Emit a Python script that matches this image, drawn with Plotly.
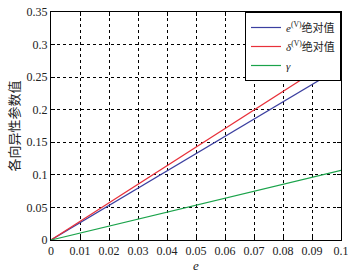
import plotly.graph_objects as go

e_vals = [0, 0.01, 0.02, 0.03, 0.04, 0.05, 0.06, 0.07, 0.08, 0.09, 0.1]
eps_abs = [0, 0.0265, 0.053, 0.0795, 0.106, 0.1325, 0.159, 0.1855, 0.212, 0.2385, 0.265]
delta_abs = [0, 0.0285, 0.057, 0.0855, 0.114, 0.1425, 0.171, 0.1995, 0.228, 0.2565, 0.285]
gamma = [0, 0.0107, 0.0214, 0.0321, 0.0428, 0.0535, 0.0642, 0.0749, 0.0856, 0.0963, 0.107]

x_ticks = [0, 0.01, 0.02, 0.03, 0.04, 0.05, 0.06, 0.07, 0.08, 0.09, 0.1]
x_labels = ["0", "0.01", "0.02", "0.03", "0.04", "0.05", "0.06", "0.07", "0.08", "0.09", "0.1"]
y_ticks = [0, 0.05, 0.1, 0.15, 0.2, 0.25, 0.3, 0.35]
y_labels = ["0", "0.05", "0.1", "0.15", "0.2", "0.25", "0.3", "0.35"]

serif = "Liberation Serif, Times New Roman, serif"

fig = go.Figure()
fig.add_trace(go.Scatter(x=e_vals, y=eps_abs, mode="lines", line=dict(color="#3b3fa0", width=1.2),
                         name="<i>e</i><sup>(V)</sup>绝对值"))
fig.add_trace(go.Scatter(x=e_vals, y=delta_abs, mode="lines", line=dict(color="#e8303a", width=1.2),
                         name="<i>δ</i><sup>(V)</sup>绝对值"))
fig.add_trace(go.Scatter(x=e_vals, y=gamma, mode="lines", line=dict(color="#1aa34a", width=1.2),
                         name="<i>γ</i>"))

axis_common = dict(showline=True, linecolor="black", linewidth=1, mirror="ticks",
                   ticks="inside", ticklen=4, tickcolor="black",
                   showgrid=True, gridcolor="black", griddash="dot", gridwidth=1,
                   zeroline=False, automargin=False, ticklabeloverflow="allow",
                   tickfont=dict(family=serif, size=12, color="#222"))

fig.update_xaxes(range=[0, 0.1], tickvals=x_ticks, ticktext=x_labels,
                 title=dict(text="<i>e</i>", font=dict(family=serif, size=13, color="#222"), standoff=2),
                 **axis_common)
fig.update_yaxes(range=[0, 0.35], tickvals=y_ticks, ticktext=y_labels,
                 title=dict(text="各向异性参数值", font=dict(family="Noto Sans CJK SC", size=13, color="#222"), standoff=4),
                 **axis_common)

fig.update_layout(
    width=348, height=273,
    margin=dict(l=51, r=7, t=12, b=33),
    paper_bgcolor="white", plot_bgcolor="white",
    showlegend=True,
    legend=dict(x=1, y=1, xanchor="right", yanchor="top",
                bgcolor="white", bordercolor="black", borderwidth=1,
                font=dict(family="Liberation Serif, Noto Sans CJK SC", size=11, color="#222"),
                tracegroupgap=0, itemwidth=30),
)

fig.write_html("out.html", post_script="document.body.style.margin='0';",
               config={"displayModeBar": False})
